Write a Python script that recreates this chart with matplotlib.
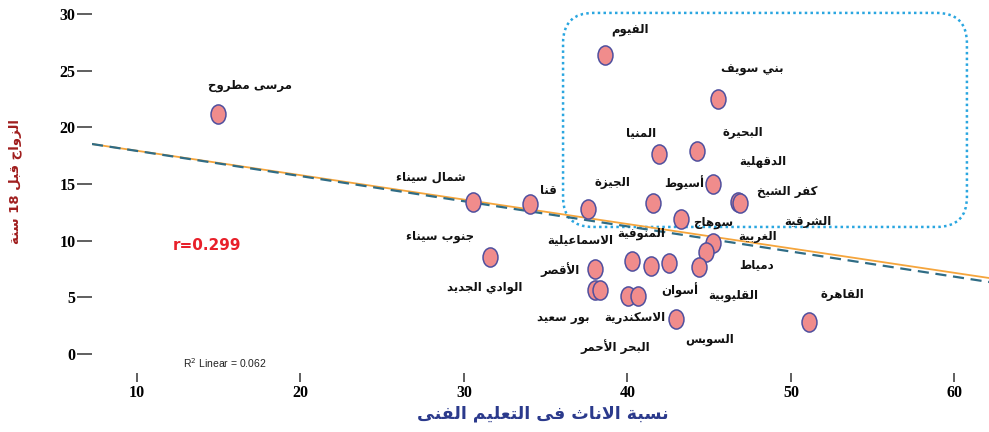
import re
import numpy as np
import matplotlib
matplotlib.use('Agg')
from matplotlib import pyplot as plt
from matplotlib.path import Path
from matplotlib.patches import FancyBboxPatch

# governorate values (x = share of girls in technical education, y = marriage before 18)
femTech = [14.95, 38.62, 45.54, 41.93, 44.25, 45.23, 46.76, 46.86, 41.56, 37.58, 34.04,
           30.55, 43.27, 45.23, 44.80, 31.59, 40.28, 41.44, 42.54, 44.37, 38.01,
           38.01, 38.32, 40.03, 40.64, 42.97, 51.10]
earlyMarriage = [21.18, 26.39, 22.51, 17.65, 17.92, 15.00, 13.42, 13.32, 13.33, 12.80, 13.24,
                 13.42, 11.92, 9.80, 9.00, 8.56, 8.21, 7.77, 8.03, 7.68, 7.50,
                 5.65, 5.65, 5.12, 5.12, 3.09, 2.82]

govNames = ['مرسى مطروح', 'الفيوم', 'بني سويف', 'المنيا', 'البحيرة', 'الدقهلية', 'أسيوط',
            'الجيزة', 'كفر الشيخ', 'قنا', 'شمال سيناء', 'سوهاج', 'الشرقية', 'المنوفية',
            'الغربية', 'الاسماعيلية', 'جنوب سيناء', 'دمياط', 'الأقصر', 'الوادي الجديد',
            'أسوان', 'القليوبية', 'القاهرة', 'الاسكندرية', 'بور سعيد', 'السويس', 'البحر الأحمر']
labelX = [16.91, 40.15, 47.61, 40.83, 47.06, 48.29, 43.46, 39.05, 49.76, 35.14, 27.98,
          45.23, 51.04, 40.83, 47.98, 37.09, 28.53, 47.92, 35.87, 31.28, 43.21, 46.45,
          53.12, 40.46, 36.06, 45.05, 39.24]
labelY = [23.65, 28.60, 25.07, 19.51, 19.51, 16.95, 15.09, 15.09, 14.30, 14.47, 15.62,
          11.56, 11.65, 10.59, 10.41, 10.06, 10.41, 7.86, 7.41, 5.83, 5.65, 5.12,
          5.21, 3.18, 3.18, 1.24, 0.62]

# fit lines: (intercept, slope)
fitSpss = (20.09, -0.2155)
fitDashed = (20.14, -0.2220)

xTicks = [10, 20, 30, 40, 50, 60]
yTicks = [0, 5, 10, 15, 20, 25, 30]

# highlighted group box (data units)
boxX0, boxX1 = 36.06, 60.76
boxY0, boxY1 = 11.21, 30.10


# matplotlib lays glyphs out one by one, so join the arabic letters by hand
_dual = {'ئ': 0xFE89, 'ب': 0xFE8F, 'ت': 0xFE95, 'ث': 0xFE99, 'ج': 0xFE9D, 'ح': 0xFEA1,
         'خ': 0xFEA5, 'س': 0xFEB1, 'ش': 0xFEB5, 'ص': 0xFEB9, 'ض': 0xFEBD, 'ط': 0xFEC1,
         'ظ': 0xFEC5, 'ع': 0xFEC9, 'غ': 0xFECD, 'ف': 0xFED1, 'ق': 0xFED5, 'ك': 0xFED9,
         'ل': 0xFEDD, 'م': 0xFEE1, 'ن': 0xFEE5, 'ه': 0xFEE9, 'ي': 0xFEF1}
_right = {'آ': 0xFE81, 'أ': 0xFE83, 'ؤ': 0xFE85, 'إ': 0xFE87, 'ا': 0xFE8D, 'ة': 0xFE93,
          'د': 0xFEA9, 'ذ': 0xFEAB, 'ر': 0xFEAD, 'ز': 0xFEAF, 'و': 0xFEED, 'ى': 0xFEEF}
_lamAlef = {'آ': 0xFEF5, 'أ': 0xFEF7, 'إ': 0xFEF9, 'ا': 0xFEFB}


def shape(txt):
    out = []
    i = 0
    n = len(txt)
    while i < n:
        c = txt[i]
        joinsPrev = i > 0 and txt[i - 1] in _dual
        if c == 'ل' and i + 1 < n and txt[i + 1] in _lamAlef:
            out.append(chr(_lamAlef[txt[i + 1]] + (1 if joinsPrev else 0)))
            i += 2
            continue
        nxt = txt[i + 1] if i + 1 < n else ''
        joinsNext = nxt in _dual or nxt in _right
        if c in _dual:
            if joinsPrev and joinsNext:
                k = 3
            elif joinsPrev:
                k = 1
            elif joinsNext:
                k = 2
            else:
                k = 0
            out.append(chr(_dual[c] + k))
        elif c in _right:
            out.append(chr(_right[c] + (1 if joinsPrev else 0)))
        else:
            out.append(c)
        i += 1
    vis = ''.join(out)[::-1]
    return re.sub(r'[0-9.]+', lambda m: m.group(0)[::-1], vis)


fig = plt.figure(figsize=(9.89, 4.32), dpi=100)
ax = fig.add_axes([92 / 989., (432 - 373) / 432., (989 - 92) / 989., 373 / 432.])
ax.set_xlim(7.25, 62.11)
ax.set_ylim(-1.68, 31.24)
for sp in ax.spines.values():
    sp.set_visible(False)

# fit lines
xs = np.array(ax.get_xlim())
ax.plot(xs, fitSpss[0] + fitSpss[1] * xs, color='#f5a53c', lw=1.3, zorder=2)
ax.plot(xs, fitDashed[0] + fitDashed[1] * xs, color='#2f6c85', lw=1.6,
        dashes=(5, 3), zorder=3)

# elliptic markers
circ = Path.unit_circle()
ellipse = Path(circ.vertices * np.array([0.78, 1.0]), circ.codes)
ax.scatter(femTech, earlyMarriage, s=190, marker=ellipse, facecolor='#f08c8c',
           edgecolor='#4f4f9e', linewidths=1.1, zorder=4)

for name, lx, ly in zip(govNames, labelX, labelY):
    ax.text(lx, ly, shape(name), ha='center', va='center', fontsize=8.5,
            fontweight='bold', family='DejaVu Sans', color='#111111', zorder=5)

box = FancyBboxPatch((boxX0, boxY0), boxX1 - boxX0, boxY1 - boxY0,
                     boxstyle='round,pad=0,rounding_size=1.85', mutation_aspect=1.43,
                     fill=False, edgecolor='#2aa6e0', lw=1.8, linestyle=(0, (1, 1.3)),
                     zorder=1)
ax.add_patch(box)

ax.text(12.2, 9.53, 'r=0.299', color='#e8202a', fontsize=11, fontweight='bold',
        ha='left', va='center')
ax.text(12.81, -0.79, 'R$^2$ Linear = 0.062', color='#222222', fontsize=7.5,
        family='Liberation Sans', ha='left', va='center')

ax.set_xticks(xTicks)
ax.set_yticks(yTicks)
ax.tick_params(axis='x', direction='out', length=6.5, width=1.2, color='#444444', pad=2)
ax.tick_params(axis='y', direction='out', length=10.5, width=1.2, color='#444444', pad=1.5)
for lab in ax.get_xticklabels() + ax.get_yticklabels():
    lab.set_family('Liberation Serif')
    lab.set_fontweight('bold')
    lab.set_fontsize(11.5)

fig.text(543 / 989., 1 - 414 / 432., shape('نسبة الاناث فى التعليم الفنى'),
         ha='center', va='center', fontsize=12.5, fontweight='bold', color='#2b3a8c')
fig.text(15 / 989., 1 - 182 / 432., shape('الزواج قبل 18 سنة'), rotation=90,
         ha='center', va='center', fontsize=9.5, fontweight='bold', color='#a01e1e')

fig.savefig('out.png', dpi=100)
